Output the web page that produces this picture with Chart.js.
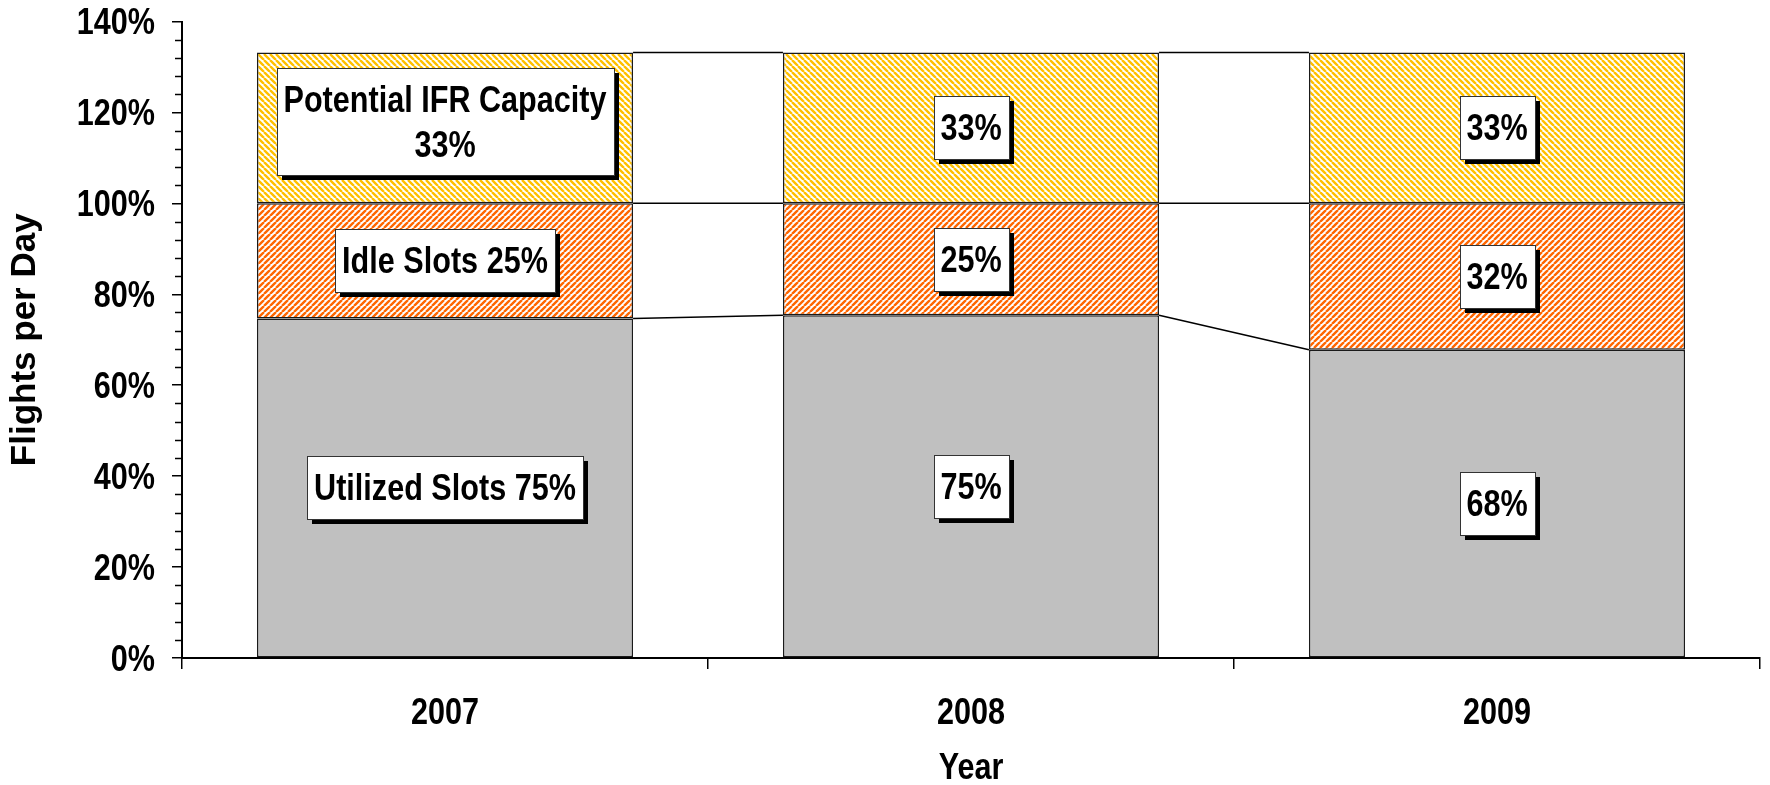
<!DOCTYPE html>
<html>
<head>
<meta charset="utf-8">
<script src="https://cdn.jsdelivr.net/npm/chart.js@4/dist/chart.umd.min.js"></script>
<style>
  html, body { margin: 0; padding: 0; background: #fff; }
  canvas { display: block; }
</style>
</head>
<body>
<canvas id="chart" width="1770" height="785"></canvas>
<script>
// values (percent of daily slots)
const years = ['2007', '2008', '2009']
const utilized = [74.7, 75.4, 67.8]
const idle = [25.3, 24.6, 32.2]
const potential = [33.2, 33.2, 33.2]
const seriesNames = ['Utilized Slots', 'Idle Slots', 'Potential IFR Capacity']
const xTitle = 'Year'
const yTitle = 'Flights per Day'

const FONT = '"Liberation Sans", Arial, sans-serif'
const TXT = 'bold 36px ' + FONT   // drawn squeezed to look like Arial Narrow
const SQUEEZE = 0.85
const CAP = 36 * 0.716
const canvas = document.getElementById('chart')
const ctx = canvas.getContext('2d')

function hatch(color, dir) {
  const s = 6
  const c = document.createElement('canvas')
  c.width = s; c.height = s
  const g = c.getContext('2d')
  g.fillStyle = '#fff'
  g.fillRect(0, 0, s, s)
  g.strokeStyle = color
  g.lineWidth = 2.4
  g.beginPath()
  for (let x0 = -s; x0 <= s; x0 += s) {
    if (dir === 'down') { g.moveTo(x0, 0); g.lineTo(x0 + s, s) }
    else { g.moveTo(x0, s); g.lineTo(x0 + s, 0) }
  }
  g.stroke()
  return ctx.createPattern(c, 'repeat')
}

function narrowText(c, text, x, y, align) {
  c.save()
  c.translate(x, y)
  c.scale(SQUEEZE, 1)
  c.textAlign = align
  c.textBaseline = 'alphabetic'
  c.fillText(text, 0, 0)
  c.restore()
}

// Excel style series lines between the stacked bars
const seriesLines = {
  id: 'seriesLines',
  afterDatasetsDraw(chart) {
    const c = chart.ctx
    c.save()
    c.strokeStyle = '#000'
    c.lineWidth = 1.5
    chart.data.datasets.forEach((ds, di) => {
      const pts = chart.getDatasetMeta(di).data
      for (let i = 0; i < pts.length - 1; i++) {
        const a = pts[i], b = pts[i + 1]
        c.beginPath()
        c.moveTo(a.x + a.width / 2, a.y)
        c.lineTo(b.x - b.width / 2, b.y)
        c.stroke()
      }
    })
    c.restore()
  }
}

// boxed data labels with a drop shadow
const boxLabels = {
  id: 'boxLabels',
  afterDatasetsDraw(chart) {
    const c = chart.ctx
    c.save()
    c.font = TXT
    chart.data.datasets.forEach((ds, di) => {
      chart.getDatasetMeta(di).data.forEach((el, i) => {
        const pct = Math.round(ds.data[i]) + '%'
        let lines = [pct]
        if (i === 0) lines = di === 2 ? [seriesNames[di], pct] : [seriesNames[di] + ' ' + pct]
        const cx = el.x
        const cy = (el.y + el.base) / 2
        const w = Math.round(Math.max(...lines.map(t => c.measureText(t).width)) * SQUEEZE + 14)
        const h = 63 + (lines.length - 1) * 44
        const x = Math.round(cx - w / 2), y = Math.round(cy - h / 2 - (lines.length - 1) * 6)
        c.fillStyle = '#000'
        c.fillRect(x + 5, y + 5, w, h)
        c.fillStyle = '#fff'
        c.fillRect(x, y, w, h)
        c.strokeStyle = '#333'
        c.lineWidth = 1
        c.strokeRect(x + 0.5, y + 0.5, w, h)
        c.fillStyle = '#000'
        lines.forEach((t, k) => narrowText(c, t, cx, y + (h - (lines.length - 1) * 45 + CAP) / 2 + k * 45, 'center'))
      })
    })
    c.restore()
  }
}

// axis texts at the scale positions, plus shorter minor ticks on the value axis
const axisText = {
  id: 'axisText',
  afterDraw(chart) {
    const { x, y } = chart.scales
    const c = chart.ctx
    c.save()
    c.strokeStyle = '#000'
    c.lineWidth = 1.5
    y.ticks.forEach(t => {
      const py = y.getPixelForValue(t.value)
      if (t.value % 20 !== 0) {
        const p = Math.round(py) + 0.5
        c.beginPath()
        c.moveTo(y.right - 7, p)
        c.lineTo(y.right, p)
        c.stroke()
      }
    })
    c.font = TXT
    c.fillStyle = '#000'
    y.ticks.forEach(t => {
      if (t.value % 20 === 0) narrowText(c, t.value + '%', y.right - 27, y.getPixelForValue(t.value) + CAP / 2, 'right')
    })
    years.forEach((lab, i) => narrowText(c, lab, x.getPixelForValue(i), 711 + CAP / 2, 'center'))
    narrowText(c, xTitle, (x.left + x.right) / 2, 766 + CAP / 2, 'center')
    c.restore()
  }
}

new Chart(ctx, {
  type: 'bar',
  data: {
    labels: years,
    datasets: [
      { label: seriesNames[0], data: utilized, backgroundColor: '#c0c0c0' },
      { label: seriesNames[1], data: idle, backgroundColor: hatch('#ff6600', 'up') },
      { label: seriesNames[2], data: potential, backgroundColor: hatch('#ffc000', 'down') }
    ]
  },
  options: {
    responsive: false,
    animation: false,
    layout: { padding: { left: 0, right: 10, top: 21.5, bottom: 0 } },
    datasets: {
      bar: { borderColor: '#1a1a1a', borderWidth: 1.5, borderSkipped: false, barPercentage: 1, categoryPercentage: 0.715 }
    },
    plugins: { legend: { display: false }, tooltip: { enabled: false } },
    scales: {
      x: {
        stacked: true,
        afterFit: s => { s.height = 127; s.paddingLeft = 0; s.paddingRight = 0 },
        border: { color: '#000', width: 2 },
        grid: { offset: true, drawOnChartArea: false, tickLength: 11, color: '#000', lineWidth: 1.5 },
        ticks: { display: false }
      },
      y: {
        stacked: true,
        min: 0,
        max: 140,
        afterFit: s => { s.width = 182; s.paddingTop = 0; s.paddingBottom = 0 },
        border: { color: '#000', width: 2 },
        grid: {
          drawOnChartArea: false,
          tickLength: 10,
          lineWidth: 1.5,
          color: c => (c.tick && c.tick.value % 20 === 0) ? '#000' : 'rgba(0,0,0,0)'
        },
        ticks: { display: false, stepSize: 4, autoSkip: false },
        title: { display: true, text: yTitle, color: '#000', font: { family: FONT, size: 35, weight: 'bold', lineHeight: 1.1 }, padding: { top: 6, bottom: 0 } }
      }
    }
  },
  plugins: [seriesLines, boxLabels, axisText]
})
</script>
</body>
</html>
